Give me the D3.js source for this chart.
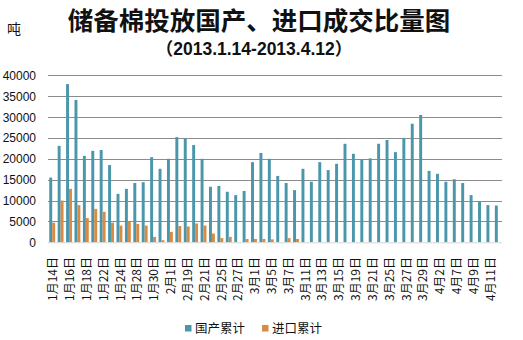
<!DOCTYPE html>
<html><head><meta charset="utf-8">
<script src="https://cdn.jsdelivr.net/npm/d3@7"></script>
<style>
html,body{margin:0;padding:0;background:#fff;}
svg{display:block;}
</style></head>
<body>
<svg id="c" width="523" height="340"></svg>
<script>
const categories = ["1月14日","1月15日","1月16日","1月17日","1月18日","1月21日","1月22日","1月23日","1月24日","1月25日",
"1月28日","1月29日","1月30日","1月31日","2月1日","2月18日","2月19日","2月20日","2月21日","2月22日",
"2月25日","2月26日","2月27日","2月28日","3月1日","3月4日","3月5日","3月6日","3月7日","3月8日",
"3月11日","3月12日","3月13日","3月14日","3月15日","3月18日","3月19日","3月20日","3月21日","3月22日",
"3月25日","3月26日","3月27日","3月28日","3月29日","4月1日","4月2日","4月3日","4月7日","4月8日",
"4月9日","4月10日","4月11日","4月12日"];
const domestic = [15500,23100,37900,34100,20700,21900,22100,18500,11600,12800,
14200,14400,20400,17600,20000,25200,24900,23300,20000,13300,
13500,12100,11300,12300,19200,21400,20000,15900,14200,12500,
17600,14500,19200,17300,18800,23600,21200,19800,20100,23600,
24500,21600,25000,28400,30500,17100,16400,14500,15100,14200,
11300,9700,8900,8800];
const imported = [4700,10000,12800,8900,5800,8000,7300,4700,4000,5000,
4400,4000,1300,500,2500,3900,3800,4500,4000,2100,
1000,1300,0,800,800,800,700,0,1000,800,
0,0,0,0,0,0,0,0,0,0,
0,0,0,0,0,0,0,0,0,0,
0,0,0,0];
const yTicks = [0,5000,10000,15000,20000,25000,30000,35000,40000];
const seriesNames = ["国产累计","进口累计"];
const colors = ["#4a97ab","#d98a45"];
const titleText = "储备棉投放国产、进口成交比量图";
const subtitleText = "（2013.1.14-2013.4.12）";
const unitText = "吨";

(function(){
const svg = d3.select("#c");
const pL = 48, pR = 502, pT = 75.3, pB = 242.3;

const x0 = d3.scaleBand().domain(categories).range([pL, pR]).paddingInner(0.3).paddingOuter(0.15);
const x1 = d3.scaleBand().domain([0,1]).range([0, x0.bandwidth()]);
const y = d3.scaleLinear().domain([0, 40000]).range([pB, pT]);

svg.append("g").selectAll("line").data(yTicks.filter(d => d > 0)).join("line")
  .attr("x1", pL).attr("x2", pR)
  .attr("y1", d => Math.round(y(d)) + 0.5).attr("y2", d => Math.round(y(d)) + 0.5)
  .attr("stroke", "#8c8c8c").attr("stroke-width", 1);

svg.append("g").selectAll("text").data(yTicks).join("text")
  .attr("x", 36).attr("y", d => y(d) + 4.5)
  .attr("text-anchor", "end")
  .attr("font-family", "Liberation Sans, Arial, sans-serif")
  .attr("font-size", 12).attr("fill", "#111")
  .text(d => d);

const g = svg.append("g");
g.selectAll("rect.d").data(domestic).join("rect").attr("class","d")
  .attr("x", (d,i) => x0(categories[i]) + x1(0))
  .attr("width", x1.bandwidth())
  .attr("y", d => y(d)).attr("height", d => y(0) - y(d))
  .attr("fill", colors[0]);
g.selectAll("rect.i").data(imported).join("rect").attr("class","i")
  .attr("x", (d,i) => x0(categories[i]) + x1(1))
  .attr("width", x1.bandwidth())
  .attr("y", d => y(d)).attr("height", d => y(0) - y(d))
  .attr("fill", colors[1]);

svg.append("line").attr("x1", pL).attr("x2", pR)
  .attr("y1", pB + 0.5).attr("y2", pB + 0.5)
  .attr("stroke", "#d8d8d8").attr("stroke-width", 1);

svg.append("g").selectAll("text").data(categories.filter((d,i) => i % 2 === 0)).join("text")
  .attr("transform", d => `translate(${x0(d) + x0.bandwidth()/2 + 1},257) rotate(-90)`)
  .attr("text-anchor", "end").attr("dy", "0.35em")
  .attr("font-family", "Noto Sans CJK SC, Liberation Sans, sans-serif")
  .attr("font-size", 12).attr("fill", "#111")
  .text(d => d);

svg.append("text").attr("x", 259).attr("y", 30).attr("text-anchor", "middle")
  .attr("font-family", "Noto Sans CJK SC, sans-serif").attr("font-weight", 700)
  .attr("font-size", 25.5).attr("fill", "#111").text(titleText);
svg.append("text").attr("x", 254).attr("y", 55).attr("text-anchor", "middle")
  .attr("font-family", "Liberation Sans, Noto Sans CJK SC, sans-serif").attr("font-weight", 700)
  .attr("font-size", 17.5).attr("fill", "#111").text(subtitleText);
svg.append("text").attr("x", 7).attr("y", 34).attr("text-anchor", "start")
  .attr("font-family", "Noto Sans CJK SC, sans-serif")
  .attr("font-size", 14).attr("fill", "#111").text(unitText);

const legendX = [185, 262];
const lg = svg.append("g");
seriesNames.forEach((n, i) => {
  lg.append("rect").attr("x", legendX[i]).attr("y", 325).attr("width", 6.5).attr("height", 6.5).attr("fill", colors[i]);
  lg.append("text").attr("x", legendX[i] + 10).attr("y", 332.5)
    .attr("font-family", "Noto Sans CJK SC, sans-serif").attr("font-size", 12.5).attr("fill", "#111").text(n);
});
})();
</script>
</body></html>
